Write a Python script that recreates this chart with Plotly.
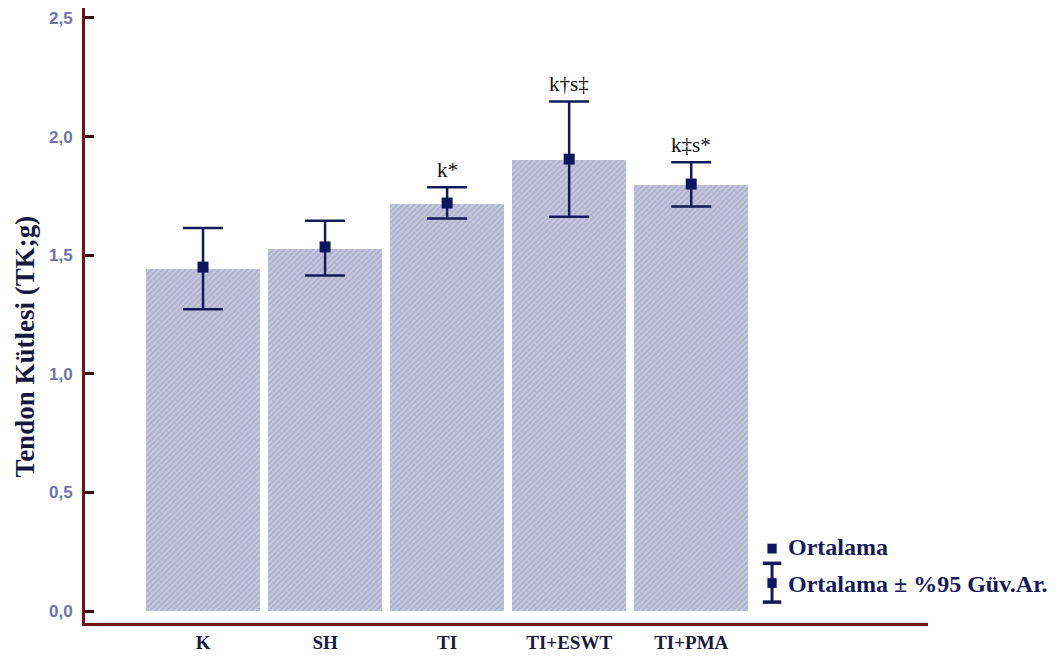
import plotly.graph_objects as go

# Group labels and measured values (tendon mass, g)
groups = ["K", "SH", "TI", "TI+ESWT", "TI+PMA"]
bar_height = [1.44, 1.525, 1.715, 1.90, 1.795]
mean_val = [1.45, 1.535, 1.72, 1.905, 1.80]
ci_upper = [1.615, 1.645, 1.787, 2.148, 1.892]
ci_lower = [1.272, 1.415, 1.655, 1.662, 1.705]
sig_marks = ["", "", "k*", "k†s‡", "k‡s*"]

y_ticks = [0.0, 0.5, 1.0, 1.5, 2.0, 2.5]

x_idx = list(range(len(groups)))
err_plus = [u - m for u, m in zip(ci_upper, mean_val)]
err_minus = [m - l for m, l in zip(mean_val, ci_lower)]

navy = "#15195a"
axis_red = "#6e1414"
serif = "Liberation Serif, Times New Roman, serif"

fig = go.Figure()

fig.add_trace(go.Bar(
    x=x_idx, y=bar_height, width=0.935,
    marker=dict(
        color="#c3c5dc",
        line=dict(width=0),
        pattern=dict(shape="/", fgcolor="#9396bd", bgcolor="#c6c8de",
                     size=4, solidity=0.45),
    ),
    showlegend=False, hoverinfo="skip",
))

fig.add_trace(go.Scatter(
    x=x_idx, y=mean_val, mode="markers",
    marker=dict(symbol="square", size=11, color="#0e1660"),
    error_y=dict(type="data", symmetric=False, array=err_plus,
                 arrayminus=err_minus, color=navy, thickness=2.5, width=20),
    showlegend=False,
))

# significance labels above the upper confidence limits
for xi, up, txt in zip(x_idx, ci_upper, sig_marks):
    if txt:
        fig.add_annotation(x=xi, y=up, text=txt, showarrow=False,
                           yanchor="bottom", yshift=3,
                           font=dict(family=serif, size=21, color="#111111"))

# y-axis title, drawn as a rotated annotation
fig.add_annotation(xref="paper", yref="paper", x=-0.071, y=0.45,
                   text="<b>Tendon Kütlesi (TK;g)</b>", textangle=-90,
                   showarrow=False, xanchor="center", yanchor="middle",
                   font=dict(family=serif, size=27, color="#16163e"))

# legend glyphs and labels
leg_x = 0.815
sq_w = 0.0055
fig.add_shape(type="rect", xref="paper", yref="paper",
              x0=leg_x - sq_w, x1=leg_x + sq_w, y0=0.113, y1=0.129,
              fillcolor="#0e1660", line=dict(width=0))
fig.add_annotation(xref="paper", yref="paper", x=leg_x + 0.017, y=0.123,
                   xanchor="left", yanchor="middle", showarrow=False,
                   text="<b>Ortalama</b>",
                   font=dict(family=serif, size=24, color=navy))
fig.add_shape(type="line", xref="paper", yref="paper",
              x0=leg_x, x1=leg_x, y0=0.034, y1=0.097,
              line=dict(color=navy, width=3))
for cy in (0.034, 0.097):
    fig.add_shape(type="line", xref="paper", yref="paper",
                  x0=leg_x - 0.011, x1=leg_x + 0.011, y0=cy, y1=cy,
                  line=dict(color=navy, width=3.5))
fig.add_shape(type="rect", xref="paper", yref="paper",
              x0=leg_x - sq_w, x1=leg_x + sq_w, y0=0.057, y1=0.073,
              fillcolor="#0e1660", line=dict(width=0))
fig.add_annotation(xref="paper", yref="paper", x=leg_x + 0.017, y=0.063,
                   xanchor="left", yanchor="middle", showarrow=False,
                   text="<b>Ortalama ± %95 Güv.Ar.</b>",
                   font=dict(family=serif, size=24, color=navy))

fig.update_layout(
    width=1057, height=661,
    margin=dict(l=85, r=129, t=8, b=35),
    paper_bgcolor="white", plot_bgcolor="white",
    separators=",.",
    bargap=0,
    xaxis=dict(
        range=[-0.967, 5.94], tickmode="array", tickvals=x_idx,
        ticktext=["<b>%s</b>" % g for g in groups],
        tickfont=dict(family=serif, size=19, color="#1a1a3a"),
        showline=True, linecolor=axis_red, linewidth=3,
        ticks="", showgrid=False, zeroline=False,
    ),
    yaxis=dict(
        range=[-0.05, 2.542], tickmode="array", tickvals=y_ticks,
        tickformat=".1f",
        tickfont=dict(family="Liberation Sans, Arial, sans-serif", size=17,
                      color="#6f73ac", weight="bold"),
        ticklabelstandoff=6,
        showline=True, linecolor=axis_red, linewidth=3,
        ticks="inside", ticklen=9, tickwidth=2.5, tickcolor="#3a0a0a",
        showgrid=False, zeroline=False,
    ),
)

fig.write_html("out.html")
